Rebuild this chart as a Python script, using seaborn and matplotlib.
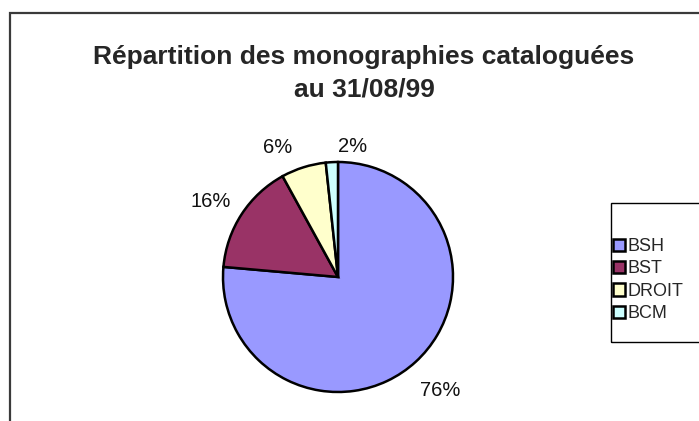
import numpy as np
import seaborn as sns
import matplotlib
matplotlib.use('Agg')
from matplotlib import pyplot as plt
from matplotlib.patches import Patch, Rectangle

# data
categories = ['BSH', 'BST', 'DROIT', 'BCM']
shares = [76.4, 15.6, 6.3, 1.7]
title = 'Répartition des monographies cataloguées\nau 31/08/99'

colors = ['#9999FF', '#993366', '#FFFFCC', '#CCFFFF']

sns.set_theme(style='white')
plt.rcParams['font.family'] = ['Liberation Sans', 'DejaVu Sans']

W, H = 699, 421
fig = plt.figure(figsize=(W / 100, H / 100), dpi=100)
fig.patch.set_facecolor('white')

# chart area border (runs off the right and bottom edges)
fig.patches.append(Rectangle((10 / W, -0.1), 1.2, (H - 13) / H + 0.1,
                             transform=fig.transFigure, fill=False,
                             edgecolor='#3a3a3a', linewidth=1.6))

# pie centre (338, 277) px, radius 115 px
cx, cy, r = 338, 277, 115
ax = fig.add_axes([(cx - r) / W, (H - cy - r) / H, 2 * r / W, 2 * r / H])

wedges, texts, autotexts = ax.pie(shares, colors=colors, startangle=90,
                                  counterclock=False,
                                  autopct='%.0f%%', pctdistance=1.31,
                                  wedgeprops=dict(edgecolor='black', linewidth=1.8),
                                  textprops=dict(fontsize=14.5, color='#111111'))
ax.set_xlim(-1, 1)
ax.set_ylim(-1, 1)

# Excel pushes the two small labels apart
nudges = [(0, -0.02), (-0.01, -0.06), (-0.13, -0.12), (0.20, -0.17)]
for t, (dx, dy) in zip(autotexts, nudges):
    x, y = t.get_position()
    t.set_position((x + dx, y + dy))
    t.set_ha('center')

fig.text(364 / W, 1 - 45 / H, title, ha='center', va='top',
         fontsize=19, fontweight='bold', linespacing=1.45)

# legend box, Excel style: wide vertical padding, runs off the right edge
fig.patches.append(Rectangle((611 / W, 1 - 342 / H), 0.3, 139 / H,
                             transform=fig.transFigure, fill=False,
                             edgecolor='black', linewidth=1.0))

handles = [Patch(facecolor=c, edgecolor='black', linewidth=1.8) for c in colors]
leg = fig.legend(handles, categories, loc='upper left',
                 bbox_to_anchor=(613 / W, 1 - 238 / H),
                 fontsize=13, frameon=False,
                 handlelength=0.65, handleheight=0.65, handletextpad=0.15,
                 labelspacing=0.3, borderpad=0, borderaxespad=0)

fig.savefig('out.png', dpi=100)
